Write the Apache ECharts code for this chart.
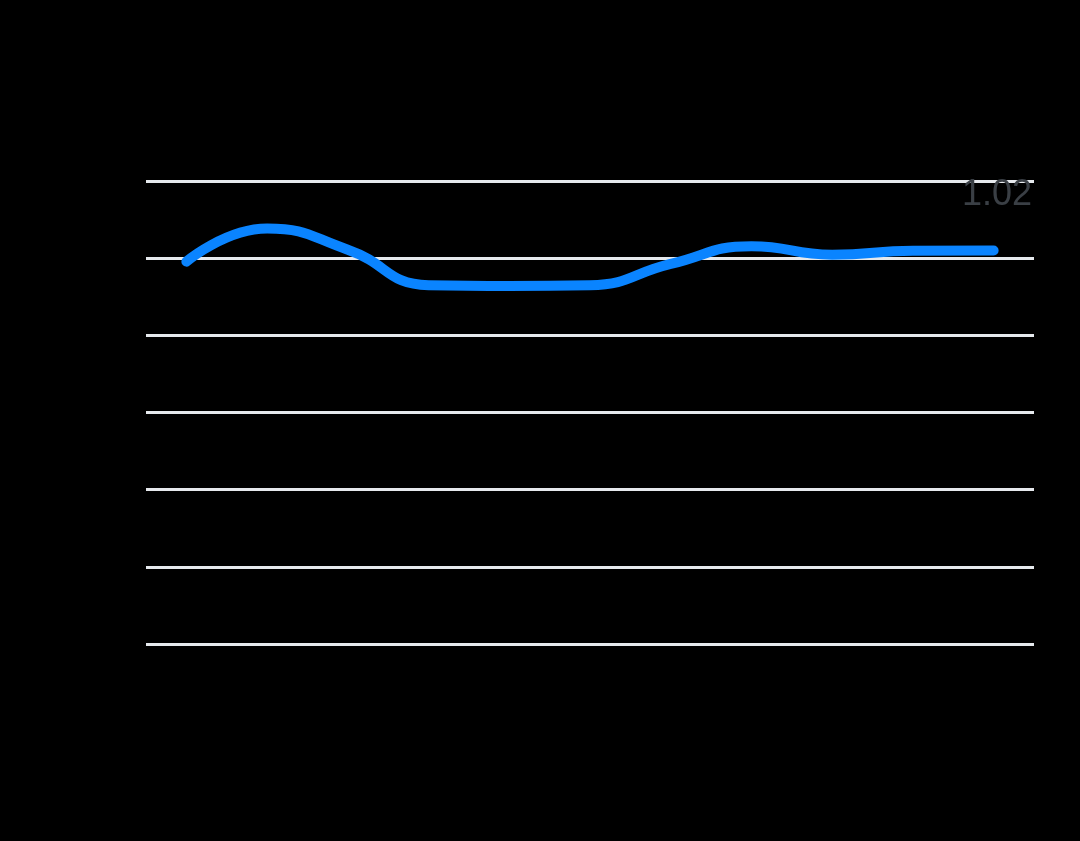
<!DOCTYPE html>
<html>
<head>
<meta charset="utf-8">
<style>
html,body{margin:0;padding:0;background:#000;}
#chart{width:1080px;height:841px;}
</style>
<script src="https://cdn.jsdelivr.net/npm/echarts@6/dist/echarts.min.js"></script>
</head>
<body>
<div id="chart"></div>
<script>
var categories = ['1','2','3','4','5','6','7','8','9','10','11'];
var values = [0.991, 1.077, 1.022, 0.93, 0.928, 0.93, 0.985, 1.031, 1.009, 1.019, 1.02];
var yTicks = [0, 0.2, 0.4, 0.6, 0.8, 1.0, 1.2];

var chart = echarts.init(document.getElementById('chart'));
chart.setOption({
  backgroundColor: '#000000',
  animation: false,
  title: {
    text: values[values.length - 1].toFixed(2),
    right: 43,
    top: 172,
    textStyle: {
      color: '#3a3f45',
      fontSize: 36,
      fontWeight: 'normal',
      fontFamily: 'Liberation Sans, Arial, sans-serif'
    }
  },
  grid: { left: 146, right: 46, top: 181, bottom: 197 },
  xAxis: {
    type: 'category',
    data: categories,
    boundaryGap: true,
    axisLine: { show: false },
    axisTick: { show: false },
    axisLabel: { show: false },
    splitLine: { show: false }
  },
  yAxis: {
    type: 'value',
    min: yTicks[0],
    max: yTicks[yTicks.length - 1],
    interval: 0.2,
    axisLine: { show: false },
    axisTick: { show: false },
    axisLabel: { show: false },
    splitLine: { show: true, lineStyle: { color: '#e6e9ed', width: 3 } }
  },
  series: [{
    type: 'line',
    data: values,
    smooth: true,
    showSymbol: false,
    lineStyle: { color: '#0a84ff', width: 10, cap: 'round', join: 'round' },
    itemStyle: { color: '#0a84ff' }
  }]
});
</script>
</body>
</html>
